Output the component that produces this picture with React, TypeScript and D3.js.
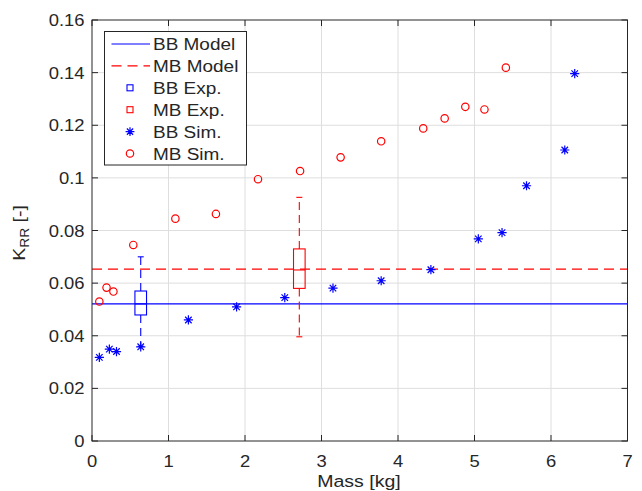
import React, { useRef, useEffect } from "react";
import * as d3 from "d3";

// values
const bbSimMass = [0.096, 0.227, 0.32, 0.637, 1.26, 1.89, 2.52, 3.15, 3.78, 4.43, 5.05, 5.36, 5.68, 6.18, 6.31];
const bbSimK = [0.0318, 0.0349, 0.034, 0.0358, 0.046, 0.051, 0.0545, 0.0581, 0.0609, 0.0651, 0.0768, 0.0792, 0.097, 0.1106, 0.1396];
const mbSimMass = [0.096, 0.19, 0.28, 0.54, 1.09, 1.62, 2.17, 2.72, 3.25, 3.78, 4.33, 4.61, 4.88, 5.13, 5.41];
const mbSimK = [0.053, 0.0583, 0.0568, 0.0745, 0.0845, 0.0863, 0.0995, 0.1026, 0.1078, 0.1139, 0.1188, 0.1226, 0.127, 0.126, 0.1419];

const bbModelK = 0.0521;
const mbModelK = 0.0653;

// boxplots of experiments: [mass, whiskerLow, q1, median, q3, whiskerHigh]
const bbExpBox = [0.637, 0.036, 0.0479, 0.0521, 0.057, 0.07];
const mbExpBox = [2.71, 0.0396, 0.058, 0.065, 0.073, 0.0926];

const xTicks = [0, 1, 2, 3, 4, 5, 6, 7];
const yTicks = [0, 0.02, 0.04, 0.06, 0.08, 0.1, 0.12, 0.14, 0.16];
const legendLabels = ["BB Model", "MB Model", "BB Exp.", "MB Exp.", "BB Sim.", "MB Sim."];

const BLUE = "#0000ff";
const RED = "#ff0000";
const AXIS = "#262626";
const FONT = "'Liberation Sans', Arial, Helvetica, sans-serif";
const STRETCH = 1.15;

function App() {
    const svgRef = useRef(null);

    useEffect(() => {
        const width = 642;
        const height = 491;
        const left = 92, right = 627.5, top = 20, bottom = 441;

        const svg = d3.select(svgRef.current);
        svg.selectAll("*").remove();
        svg.attr("width", width).attr("height", height);

        const x = d3.scaleLinear().domain([0, 7]).range([left, right]);
        const y = d3.scaleLinear().domain([0, 0.16]).range([bottom, top]);

        const addText = (g, tx, ty, str, size, anchor) =>
            g.append("text")
                .attr("transform", `translate(${tx},${ty}) scale(${STRETCH},1)`)
                .attr("text-anchor", anchor)
                .attr("font-family", FONT)
                .attr("font-size", size)
                .attr("fill", AXIS)
                .text(str);

        svg.append("rect").attr("width", width).attr("height", height).attr("fill", "#fff");
        svg.append("rect")
            .attr("x", left).attr("y", top)
            .attr("width", right - left).attr("height", bottom - top)
            .attr("fill", "#fff");

        // grid
        const grid = svg.append("g").attr("stroke", "#dedede").attr("stroke-width", 1);
        xTicks.slice(1, -1).forEach((t) => {
            grid.append("line").attr("x1", x(t)).attr("x2", x(t)).attr("y1", top).attr("y2", bottom);
        });
        yTicks.slice(1, -1).forEach((t) => {
            grid.append("line").attr("x1", left).attr("x2", right).attr("y1", y(t)).attr("y2", y(t));
        });

        // model lines
        svg.append("line")
            .attr("x1", left).attr("x2", right)
            .attr("y1", y(bbModelK)).attr("y2", y(bbModelK))
            .attr("stroke", BLUE).attr("stroke-width", 1.2);
        svg.append("line")
            .attr("x1", left).attr("x2", right)
            .attr("y1", y(mbModelK)).attr("y2", y(mbModelK))
            .attr("stroke", RED).attr("stroke-width", 1.2)
            .attr("stroke-dasharray", "10,6");

        // boxplots
        const drawBox = (b, color) => {
            const [m, lo, q1, med, q3, hi] = b;
            const cx = x(m);
            const g = svg.append("g").attr("stroke", color).attr("stroke-width", 1.1).attr("fill", "none");
            g.append("line").attr("x1", cx).attr("x2", cx).attr("y1", y(q3)).attr("y2", y(hi)).attr("stroke-dasharray", "8,5");
            g.append("line").attr("x1", cx).attr("x2", cx).attr("y1", y(q1)).attr("y2", y(lo)).attr("stroke-dasharray", "8,5");
            g.append("line").attr("x1", cx - 3).attr("x2", cx + 3).attr("y1", y(hi)).attr("y2", y(hi));
            g.append("line").attr("x1", cx - 3).attr("x2", cx + 3).attr("y1", y(lo)).attr("y2", y(lo));
            g.append("rect").attr("x", cx - 5.8).attr("width", 11.6).attr("y", y(q3)).attr("height", y(q1) - y(q3));
            g.append("line").attr("x1", cx - 5.8).attr("x2", cx + 5.8).attr("y1", y(med)).attr("y2", y(med));
        };
        drawBox(bbExpBox, BLUE);
        drawBox(mbExpBox, RED);

        const asterisk = (g, cx, cy, r) => {
            const d = r * Math.SQRT1_2;
            g.append("path")
                .attr("d", `M${cx - r},${cy}H${cx + r}M${cx},${cy - r}V${cy + r}M${cx - d},${cy - d}L${cx + d},${cy + d}M${cx - d},${cy + d}L${cx + d},${cy - d}`)
                .attr("stroke", BLUE).attr("stroke-width", 1.2).attr("fill", "none");
        };

        // simulations
        const sims = svg.append("g");
        bbSimMass.forEach((m, i) => asterisk(sims, x(m), y(bbSimK[i]), 4.6));
        sims.selectAll("circle")
            .data(mbSimMass)
            .enter()
            .append("circle")
            .attr("cx", (m) => x(m))
            .attr("cy", (_, i) => y(mbSimK[i]))
            .attr("r", 3.7)
            .attr("fill", "none")
            .attr("stroke", RED)
            .attr("stroke-width", 1.2);

        // axes box with inner ticks
        const ax = svg.append("g").attr("stroke", AXIS).attr("stroke-width", 1);
        ax.append("rect")
            .attr("x", left).attr("y", top)
            .attr("width", right - left).attr("height", bottom - top)
            .attr("fill", "none");
        xTicks.forEach((t) => {
            ax.append("line").attr("x1", x(t)).attr("x2", x(t)).attr("y1", bottom).attr("y2", bottom - 6);
            ax.append("line").attr("x1", x(t)).attr("x2", x(t)).attr("y1", top).attr("y2", top + 6);
        });
        yTicks.forEach((t) => {
            ax.append("line").attr("x1", left).attr("x2", left + 6).attr("y1", y(t)).attr("y2", y(t));
            ax.append("line").attr("x1", right).attr("x2", right - 6).attr("y1", y(t)).attr("y2", y(t));
        });

        const labels = svg.append("g");
        xTicks.forEach((t) => addText(labels, x(t), 467, String(t), 16, "middle"));
        yTicks.forEach((t) => addText(labels, 84.5, y(t) + 6, String(t), 16, "end"));
        addText(labels, 359, 486.5, "Mass [kg]", 17, "middle");

        // y label with subscript
        const yl = labels.append("text")
            .attr("transform", `translate(25,233) rotate(-90) scale(${STRETCH},1)`)
            .attr("text-anchor", "middle")
            .attr("font-family", FONT)
            .attr("font-size", 17)
            .attr("fill", AXIS);
        yl.append("tspan").text("K");
        yl.append("tspan").attr("font-size", 12).attr("dy", 4).text("RR");
        yl.append("tspan").attr("dy", -4).text(" [-]");

        // legend
        const lg = svg.append("g");
        lg.append("rect")
            .attr("x", 104.5).attr("y", 31.5)
            .attr("width", 142).attr("height", 133.5)
            .attr("fill", "#fff").attr("stroke", AXIS).attr("stroke-width", 1);
        const rowY = (i) => 44 + i * 21.9;
        lg.append("line").attr("x1", 111.5).attr("x2", 150).attr("y1", rowY(0)).attr("y2", rowY(0))
            .attr("stroke", BLUE).attr("stroke-width", 1.2);
        lg.append("line").attr("x1", 111.5).attr("x2", 150).attr("y1", rowY(1)).attr("y2", rowY(1))
            .attr("stroke", RED).attr("stroke-width", 1.2).attr("stroke-dasharray", "10,6");
        lg.append("rect").attr("x", 127).attr("y", rowY(2) - 3).attr("width", 6).attr("height", 6)
            .attr("fill", "none").attr("stroke", BLUE).attr("stroke-width", 1.1);
        lg.append("rect").attr("x", 127).attr("y", rowY(3) - 3).attr("width", 6).attr("height", 6)
            .attr("fill", "none").attr("stroke", RED).attr("stroke-width", 1.1);
        asterisk(lg, 130, rowY(4), 4.4);
        lg.append("circle").attr("cx", 130).attr("cy", rowY(5)).attr("r", 3.7)
            .attr("fill", "none").attr("stroke", RED).attr("stroke-width", 1.2);
        legendLabels.forEach((l, i) => addText(lg, 153, rowY(i) + 6, l, 16.5, "start"));
    }, []);

    return (
        <svg ref={svgRef} style={{ position: "absolute", left: 0, top: 0, display: "block" }}></svg>
    );
}

export default App;
